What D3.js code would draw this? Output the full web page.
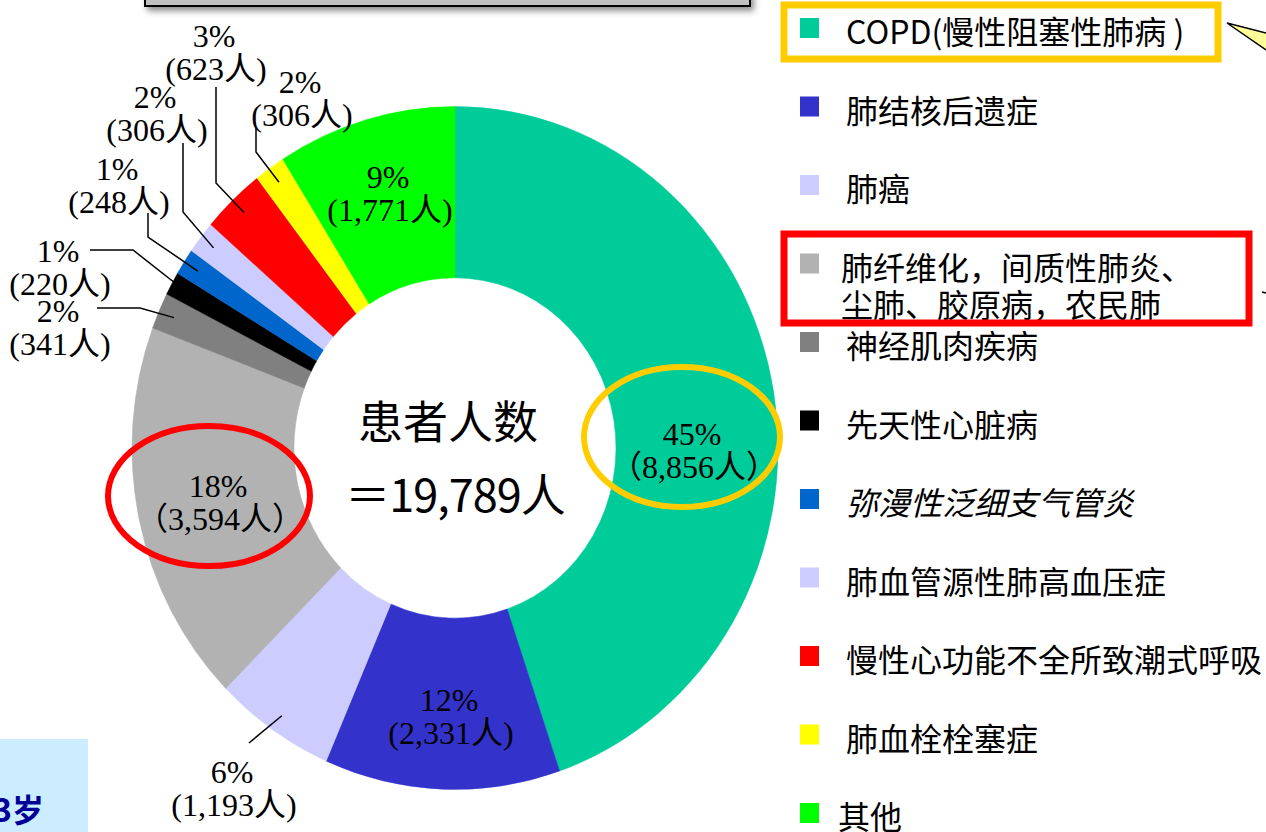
<!DOCTYPE html>
<html>
<head>
<meta charset="utf-8">
<script src="https://cdn.jsdelivr.net/npm/d3@7"></script>
<style>
html,body{margin:0;padding:0;background:#fff;}
svg{display:block;}
</style>
</head>
<body>
<svg id="chart" width="1266" height="832"></svg>
<script>
// ---- data ----
const categories = ["COPD(慢性阻塞性肺病 )","肺结核后遗症","肺癌","肺纤维化，间质性肺炎、\n尘肺、胶原病，农民肺","神经肌肉疾病","先天性心脏病","弥漫性泛细支气管炎","肺血管源性肺高血压症","慢性心功能不全所致潮式呼吸","肺血栓栓塞症","其他"];
const patients = [8856, 2331, 1193, 3594, 341, 220, 248, 306, 623, 306, 1771];
const colors = ["#00CC99","#3333CC","#CCCCFF","#B2B2B2","#808080","#000000","#0066CC","#CCCCFF","#FF0000","#FFFF00","#00FF00"];
const centerTitle = "患者人数";
const centerTotalLabel = "＝19,789人";

// ---- layout (positions only) ----
const cx = 455, cy = 448, sy = 1.057, rOuter = 323, rInner = 161;
// label anchor (center x, first baseline), full-width parens flag, optional leader-line points (elbow..end)
const labelLayout = [
  {x: 692, y: 445, wide: true},
  {x: 449, y: 711},
  {x: 232, y: 783, leader: [[249, 743]]},
  {x: 218, y: 497, wide: true},
  {x: 58,  y: 322, leader: [[140, 308], [97, 308]]},
  {x: 58,  y: 262, leader: [[133, 250], [90, 250]]},
  {x: 117, y: 180, leader: [[148, 237], [148, 213]]},
  {x: 155, y: 108, leader: [[183, 212], [183, 143]]},
  {x: 214, y: 47,  leader: [[216, 183], [216, 87]]},
  {x: 300, y: 93,  leader: [[256, 152], [256, 128]]},
  {x: 388, y: 188}
];

const svg = d3.select("#chart");
const total = d3.sum(patients);
const fmt = d3.format(",");

// drop shadow filter for top box
const defs = svg.append("defs");
const f = defs.append("filter").attr("id","shadow").attr("x","-5%").attr("y","-50%").attr("width","110%").attr("height","300%");
f.append("feDropShadow").attr("dx",3).attr("dy",4).attr("stdDeviation",3).attr("flood-color","#000").attr("flood-opacity",0.45);

// top gray box (cropped)
svg.append("rect").attr("x",145).attr("y",-20).attr("width",605).attr("height",26)
  .attr("fill","#C0C0C0").attr("stroke","#000").attr("stroke-width",2).attr("filter","url(#shadow)");

// bottom-left light blue box
svg.append("rect").attr("x",0).attr("y",739).attr("width",88).attr("height",100).attr("fill","#CCECFF");
svg.append("text").attr("x",-7).attr("y",822).text("3岁")
  .attr("font-family","'Noto Sans CJK SC'").attr("font-weight","bold").attr("font-size",32).attr("fill","#000099");

// donut
const pie = d3.pie().value(d => d).sort(null);
const arcs = pie(patients);
const arc = d3.arc().innerRadius(rInner).outerRadius(rOuter);
const g = svg.append("g").attr("transform", `translate(${cx},${cy}) scale(1,${sy})`);
g.selectAll("path").data(arcs).join("path")
  .attr("d", arc).attr("fill", (d,i) => colors[i]).attr("stroke", (d,i) => colors[i]).attr("stroke-width",0.5);

// leader lines
const pt = (a, r) => [cx + r * Math.sin(a), cy - r * Math.cos(a) * sy];
arcs.forEach((d,i) => {
  const L = labelLayout[i];
  if (!L.leader) return;
  const mid = (d.startAngle + d.endAngle) / 2;
  const pts = [pt(mid, rOuter * 0.95), ...L.leader];
  svg.append("path").attr("d", d3.line()(pts)).attr("fill","none").attr("stroke","#000").attr("stroke-width",1.5);
});

// slice labels
const lab = svg.append("g").attr("font-family","'Liberation Serif','Noto Sans CJK SC',serif").attr("font-size",32).attr("fill","#000").attr("text-anchor","middle");
arcs.forEach((d,i) => {
  const L = labelLayout[i];
  const pct = Math.round(patients[i] / total * 100) + "%";
  lab.append("text").attr("x", L.x).attr("y", L.y).text(pct);
  const cnt = L.wide ? "（" + fmt(patients[i]) + "人）" : "(" + fmt(patients[i]) + "人)";
  lab.append("text").attr("x", L.x + 2).attr("y", L.y + 33).text(cnt);
});

// center text
const ct = svg.append("g").attr("font-family","'Noto Sans CJK SC'").attr("fill","#000").attr("text-anchor","middle");
ct.append("text").attr("x",448).attr("y",439).attr("font-size",45).text(centerTitle);
ct.append("text").attr("x",455).attr("y",512).attr("font-size",45).attr("letter-spacing",-1).text(centerTotalLabel);

// highlight ellipses
svg.append("ellipse").attr("cx",682).attr("cy",437).attr("rx",98).attr("ry",70).attr("fill","none").attr("stroke","#FFCC00").attr("stroke-width",6);
svg.append("ellipse").attr("cx",209).attr("cy",496).attr("rx",101).attr("ry",70).attr("fill","none").attr("stroke","#FF0000").attr("stroke-width",6);

// legend
const ly = d3.scaleLinear().domain([0, 1]).range([28, 106.5]);
const leg = svg.append("g").attr("font-family","'Noto Sans CJK SC'").attr("font-size",32).attr("fill","#000");
categories.forEach((c,i) => {
  const y = ly(i);
  leg.append("rect").attr("x",800).attr("y",y-10).attr("width",19).attr("height",20).attr("fill",colors[i]);
  const lines = c.split("\n");
  const tx = i === 3 ? 841 : (i === 10 ? 838 : 846);
  lines.forEach((ln,k) => {
    const t = leg.append("text").attr("x",tx).attr("y", y + 16 + k*37).text(ln);
    if (i === 6) t.attr("font-style","italic");
  });
});

// highlight boxes around legend items
svg.append("rect").attr("x",784).attr("y",5).attr("width",434).attr("height",54).attr("fill","none").attr("stroke","#FFCC00").attr("stroke-width",7);
svg.append("rect").attr("x",784).attr("y",234).attr("width",465).attr("height",89).attr("fill","none").attr("stroke","#FF0000").attr("stroke-width",7);

// callout pointer at right edge
svg.append("path").attr("d", d3.line()([[1266,33],[1227,23],[1266,50]])).attr("fill","#FFFF99").attr("stroke","#000").attr("stroke-width",1.5);
svg.append("path").attr("d", d3.line()([[1262,292],[1266,293]])).attr("stroke","#000").attr("stroke-width",1.5);
</script>
</body>
</html>
